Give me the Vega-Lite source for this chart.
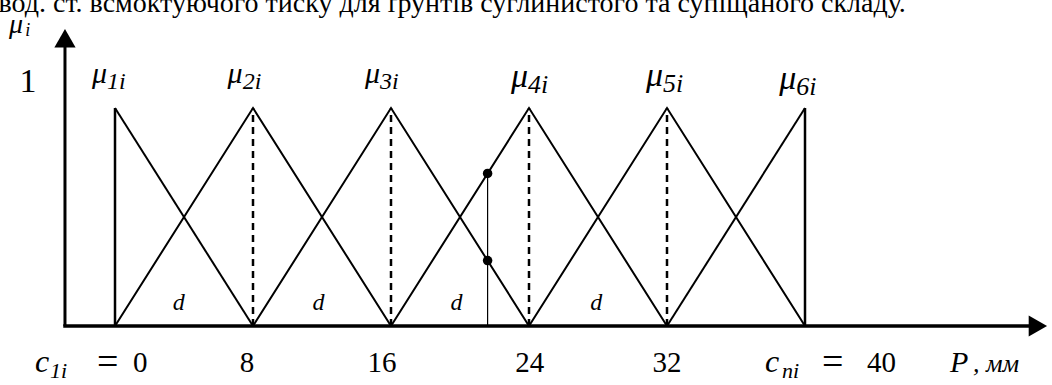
{
  "$schema": "https://vega.github.io/schema/vega-lite/v6.json",
  "width": 1052,
  "height": 385,
  "padding": 0,
  "autosize": "none",
  "background": "white",
  "config": {"view": {"stroke": null}},
  "datasets": {
    "tri": [
      {"f": "m1", "x": 0, "y": 1}, {"f": "m1", "x": 8, "y": 0},
      {"f": "m2", "x": 0, "y": 0}, {"f": "m2", "x": 8, "y": 1}, {"f": "m2", "x": 16, "y": 0},
      {"f": "m3", "x": 8, "y": 0}, {"f": "m3", "x": 16, "y": 1}, {"f": "m3", "x": 24, "y": 0},
      {"f": "m4", "x": 16, "y": 0}, {"f": "m4", "x": 24, "y": 1}, {"f": "m4", "x": 32, "y": 0},
      {"f": "m5", "x": 24, "y": 0}, {"f": "m5", "x": 32, "y": 1}, {"f": "m5", "x": 40, "y": 0},
      {"f": "m6", "x": 32, "y": 0}, {"f": "m6", "x": 40, "y": 1}
    ],
    "solidV": [{"x": 0, "y": 0, "y2": 1}, {"x": 40, "y": 0, "y2": 1}],
    "dashV": [{"x": 8, "y": 0, "y2": 1}, {"x": 16, "y": 0, "y2": 1}, {"x": 24, "y": 0, "y2": 1}, {"x": 32, "y": 0, "y2": 1}],
    "probe": [{"x": 21.6, "y": 0, "y2": 0.7}],
    "dots": [{"x": 21.6, "y": 0.7}, {"x": 21.6, "y": 0.3}],
    "xAxis": [{"x": -3.0, "x2": 53.2, "y": 0}],
    "yAxis": [{"x": -2.9, "y": 0, "y2": 1.3}],
    "xArrow": [{"x": 53.5, "y": 0}],
    "yArrow": [{"x": -2.9, "y": 1.32}],
    "muSmall": [
      {"m": "μ", "s": "1i", "x": -0.46, "y": 1.115},
      {"m": "μ", "s": "2i", "x": 7.4, "y": 1.115},
      {"m": "μ", "s": "3i", "x": 15.36, "y": 1.115}
    ],
    "muBig": [
      {"m": "μ", "s": "4i", "x": 23.94, "y": 1.095},
      {"m": "μ", "s": "5i", "x": 31.77, "y": 1.1},
      {"m": "μ", "s": "6i", "x": 39.5, "y": 1.085}
    ],
    "dLabels": [
      {"t": "d", "x": 3.7, "y": 0.073},
      {"t": "d", "x": 11.8, "y": 0.073},
      {"t": "d", "x": 19.8, "y": 0.073},
      {"t": "d", "x": 27.9, "y": 0.073}
    ],
    "ticks": [
      {"t": "8", "x": 7.65, "y": -0.211},
      {"t": "16", "x": 15.48, "y": -0.211},
      {"t": "24", "x": 24.05, "y": -0.211},
      {"t": "32", "x": 32.0, "y": -0.211}
    ],
    "one": [{"t": "1", "x": -5.04, "y": 1.073}],
    "cItal": [
      {"t": "c", "s": "1i", "x": -4.64, "xs": -3.77, "y": -0.211},
      {"t": "c", "s": "ni", "x": 37.68, "xs": 38.67, "y": -0.211}
    ],
    "eqs": [
      {"t": "=", "x": -1.04, "y": -0.211},
      {"t": "=", "x": 40.99, "y": -0.211}
    ],
    "eqVals": [
      {"t": "0", "x": 1.04, "y": -0.211},
      {"t": "40", "x": 43.59, "y": -0.211}
    ],
    "pLabel": [{"t": "P", "e": ", мм", "x": 48.4, "xe": 49.74, "y": -0.211}],
    "muAxis": [{"m": "μ", "s": "i", "x": -6.15, "xs": -5.2, "y": 1.344}],
    "title": [{"t": "вод. ст. всмоктуючого тиску для ґрунтів суглинистого та супіщаного складу.", "x": -6.75, "y": 1.44}]
  },
  "encoding": {
    "x": {"field": "x", "type": "quantitative", "scale": {"domain": [-6.667, 54.319], "nice": false, "zero": false}, "axis": null},
    "y": {"field": "y", "type": "quantitative", "scale": {"domain": [-0.2706, 1.4954], "nice": false, "zero": false}, "axis": null}
  },
  "layer": [
    {"data": {"name": "tri"}, "mark": {"type": "line", "color": "black", "strokeWidth": 2, "clip": false}, "encoding": {"detail": {"field": "f"}, "order": {"field": "x"}}},
    {"data": {"name": "solidV"}, "mark": {"type": "rule", "color": "black", "strokeWidth": 2.5}, "encoding": {"y2": {"field": "y2"}}},
    {"data": {"name": "dashV"}, "mark": {"type": "rule", "color": "black", "strokeWidth": 2.5, "strokeDash": [7, 5]}, "encoding": {"y2": {"field": "y2"}}},
    {"data": {"name": "probe"}, "mark": {"type": "rule", "color": "black", "strokeWidth": 1.2}, "encoding": {"y2": {"field": "y2"}}},
    {"data": {"name": "dots"}, "mark": {"type": "point", "filled": true, "color": "black", "size": 90, "opacity": 1}},
    {"data": {"name": "xAxis"}, "mark": {"type": "rule", "color": "black", "strokeWidth": 3.5}, "encoding": {"x2": {"field": "x2"}}},
    {"data": {"name": "yAxis"}, "mark": {"type": "rule", "color": "black", "strokeWidth": 3}, "encoding": {"y2": {"field": "y2"}}},
    {"data": {"name": "xArrow"}, "mark": {"type": "point", "shape": "triangle-right", "filled": true, "color": "black", "size": 450, "opacity": 1}},
    {"data": {"name": "yArrow"}, "mark": {"type": "point", "shape": "triangle-up", "filled": true, "color": "black", "size": 450, "opacity": 1}},
    {"data": {"name": "muSmall"}, "mark": {"type": "text", "font": "Liberation Serif", "fontSize": 30, "fontStyle": "italic", "align": "right", "baseline": "alphabetic"}, "encoding": {"text": {"field": "m"}}},
    {"data": {"name": "muSmall"}, "mark": {"type": "text", "font": "Liberation Serif", "fontSize": 24, "fontStyle": "italic", "align": "left", "baseline": "alphabetic", "dy": 6}, "encoding": {"text": {"field": "s"}}},
    {"data": {"name": "muBig"}, "mark": {"type": "text", "font": "Liberation Serif", "fontSize": 34, "fontStyle": "italic", "align": "right", "baseline": "alphabetic"}, "encoding": {"text": {"field": "m"}}},
    {"data": {"name": "muBig"}, "mark": {"type": "text", "font": "Liberation Serif", "fontSize": 26, "fontStyle": "italic", "align": "left", "baseline": "alphabetic", "dy": 6}, "encoding": {"text": {"field": "s"}}},
    {"data": {"name": "dLabels"}, "mark": {"type": "text", "font": "Liberation Serif", "fontSize": 24, "fontStyle": "italic", "align": "center", "baseline": "alphabetic"}, "encoding": {"text": {"field": "t"}}},
    {"data": {"name": "ticks"}, "mark": {"type": "text", "font": "Liberation Serif", "fontSize": 29, "align": "center", "baseline": "alphabetic"}, "encoding": {"text": {"field": "t"}}},
    {"data": {"name": "one"}, "mark": {"type": "text", "font": "Liberation Serif", "fontSize": 34, "align": "center", "baseline": "alphabetic"}, "encoding": {"text": {"field": "t"}}},
    {"data": {"name": "cItal"}, "mark": {"type": "text", "font": "Liberation Serif", "fontSize": 32, "fontStyle": "italic", "align": "left", "baseline": "alphabetic"}, "encoding": {"text": {"field": "t"}}},
    {"data": {"name": "cItal"}, "mark": {"type": "text", "font": "Liberation Serif", "fontSize": 22, "fontStyle": "italic", "align": "left", "baseline": "alphabetic", "dy": 6}, "encoding": {"x": {"field": "xs", "type": "quantitative"}, "text": {"field": "s"}}},
    {"data": {"name": "eqs"}, "mark": {"type": "text", "font": "Liberation Serif", "fontSize": 38, "align": "left", "baseline": "alphabetic", "dy": 2}, "encoding": {"text": {"field": "t"}}},
    {"data": {"name": "eqVals"}, "mark": {"type": "text", "font": "Liberation Serif", "fontSize": 29, "align": "left", "baseline": "alphabetic"}, "encoding": {"text": {"field": "t"}}},
    {"data": {"name": "pLabel"}, "mark": {"type": "text", "font": "Liberation Serif", "fontSize": 30, "fontStyle": "italic", "align": "left", "baseline": "alphabetic"}, "encoding": {"text": {"field": "t"}}},
    {"data": {"name": "pLabel"}, "mark": {"type": "text", "font": "Liberation Serif", "fontSize": 26, "fontStyle": "italic", "align": "left", "baseline": "alphabetic"}, "encoding": {"x": {"field": "xe", "type": "quantitative"}, "text": {"field": "e"}}},
    {"data": {"name": "muAxis"}, "mark": {"type": "text", "font": "Liberation Serif", "fontSize": 28, "fontStyle": "italic", "align": "left", "baseline": "alphabetic"}, "encoding": {"text": {"field": "m"}}},
    {"data": {"name": "muAxis"}, "mark": {"type": "text", "font": "Liberation Serif", "fontSize": 18, "fontStyle": "italic", "align": "left", "baseline": "alphabetic", "dy": 3}, "encoding": {"x": {"field": "xs", "type": "quantitative"}, "text": {"field": "s"}}},
    {"data": {"name": "title"}, "mark": {"type": "text", "font": "Liberation Serif", "fontSize": 28, "align": "left", "baseline": "alphabetic"}, "encoding": {"text": {"field": "t"}}}
  ]
}
